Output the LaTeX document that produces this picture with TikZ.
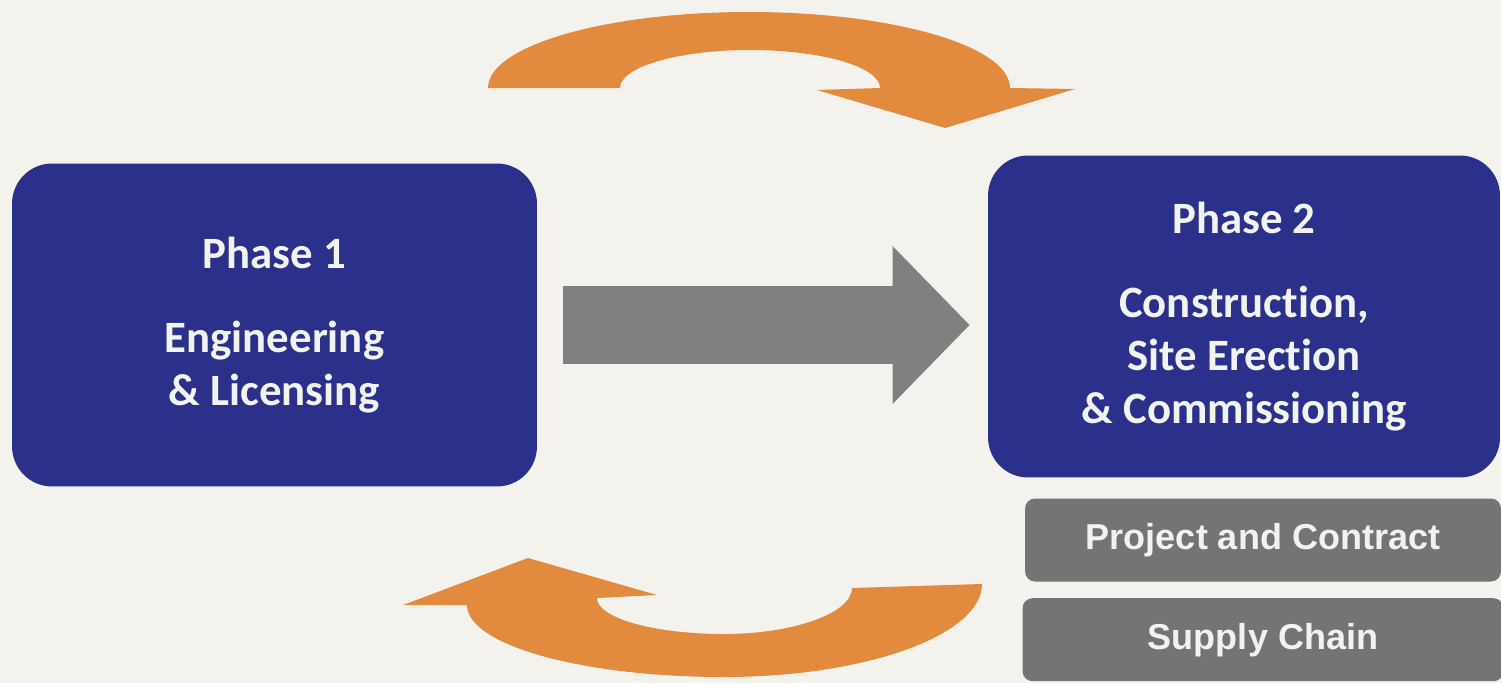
\documentclass[tikz,border=0pt]{standalone}
\usepackage{fontspec}
\setmainfont{Carlito}[Ligatures=NoCommon]
\newfontfamily\arialfont{Liberation Sans}
\usetikzlibrary{arrows.meta,positioning,calc}
\definecolor{navy}{RGB}{43,48,138}
\definecolor{paper}{RGB}{244,242,236}
\definecolor{orangearr}{RGB}{226,139,62}
\definecolor{greyarr}{RGB}{128,128,128}
\definecolor{greybox}{RGB}{116,116,116}
\definecolor{boxtext}{RGB}{242,242,238}

\begin{document}
\begin{tikzpicture}[
        x=0.02cm, y=-0.02cm,
        node distance=0.32cm,
        phase/.style={fill=navy, rounded corners=0.8cm, align=center, text=boxtext, font=\bfseries\fontsize{25.5}{30}\selectfont, inner sep=0pt},
        side/.style={fill=greybox, rounded corners=0.2cm, align=center, text=boxtext, font=\arialfont\bfseries\fontsize{20.5}{25}\selectfont, inner sep=0pt, minimum height=1.66cm},
        bigarr/.style={draw=greyarr, line width=1.58cm, -{Triangle[length=1.54cm, width=3.06cm]}, shorten <=0.52cm, shorten >=0.36cm},
        turn/.style={fill=orangearr}
    ]
        \fill[paper] (0,0) rectangle (1501,683);
        \useasboundingbox (0,0) rectangle (1501,683);

        \node[phase, minimum width=10.5cm, minimum height=6.46cm] (p1) at (274.5,325) {Phase 1\\[18pt]Engineering\\\& Licensing};
        \node[phase, minimum width=10.24cm, minimum height=6.44cm] (p2) at (1244,316.5) {Phase 2\\[18pt]Construction,\\Site Erection\\\& Commissioning};

        \node[side, minimum width=9.52cm] (contract) at (1263,540) {Project and Contract};
        \node[side, minimum width=9.62cm, below=of contract] (supply) {Supply Chain};

        \draw[bigarr] (p1) -- (p1 -| p2.west);

        \fill[turn] (488,88) .. controls (488,46) and (605,12) .. (749,12)
            .. controls (893,12) and (1010,46) .. (1010,88)
            -- (1075,89) -- (945,128) -- (817,90) -- (880,88)
            .. controls (880,67) and (822,50) .. (750,50)
            .. controls (678,50) and (620,67) .. (620,88) -- cycle;
        \fill[turn] (403,605) -- (528,558) -- (657,595) -- (597,598)
            .. controls (597,618) and (654,634) .. (724,634)
            .. controls (794,634) and (852,613) .. (852,588)
            -- (982,584)
            .. controls (982,635) and (866,677) .. (724,677)
            .. controls (582,677) and (467,645) .. (467,605) -- cycle;
    \end{tikzpicture}
\end{document}
